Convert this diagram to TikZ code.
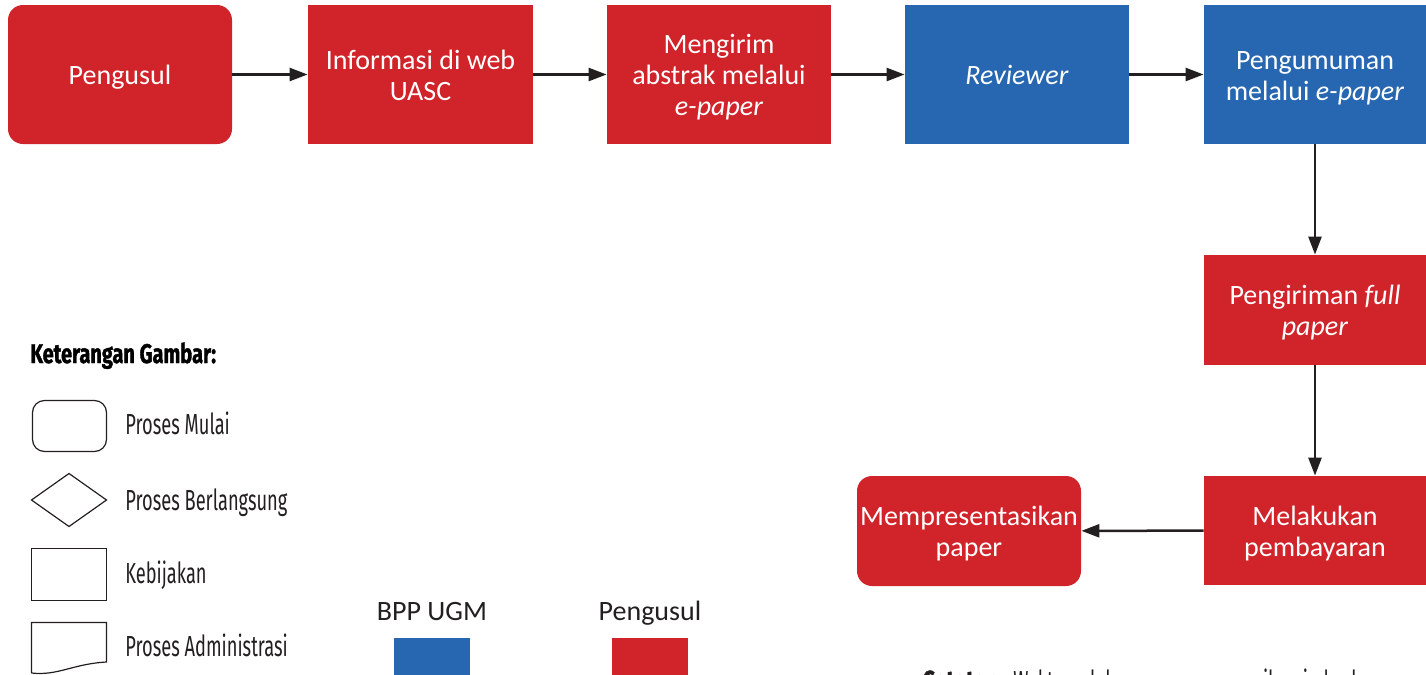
\documentclass[tikz,border=0pt]{standalone}
\usepackage{fontspec}
\setmainfont{Carlito}
\newfontfamily\legendfont[FakeStretch=0.63]{Fira Sans}
\newfontfamily\legendheadfont[FakeStretch=0.74, BoldFeatures={FakeBold=1.3}]{Fira Sans}
\usetikzlibrary{arrows.meta}

\definecolor{boxred}{RGB}{209,35,42}
\definecolor{boxblue}{RGB}{39,102,176}
\definecolor{ink}{RGB}{35,31,32}

% centred lines of box text, set slightly below the geometric middle
\newcommand\flowtext[1]{\raisebox{-2pt}[\height][\depth]{%
  \begin{tabular}{@{}c@{}}#1\end{tabular}}}

\tikzset{
  flowbox/.style={minimum width=112pt, minimum height=69.5pt, inner sep=0pt,
    text=white, font=\fontsize{14}{15.5}\selectfont},
  redbox/.style={flowbox, fill=boxred},
  bluebox/.style={flowbox, fill=boxblue},
  startbox/.style={redbox, rounded corners=7.5pt},
  flow/.style={draw=ink, line width=1.25pt, -{Triangle[length=9pt,width=6.5pt]}},
  symbol/.style={draw=ink, line width=0.6pt},
  keylabel/.style={anchor=base west, inner sep=0pt, text=ink,
    font=\legendfont\fontsize{14.5}{16}\selectfont},
  keyhead/.style={anchor=base west, inner sep=0pt, text=black,
    font=\legendheadfont\bfseries\fontsize{13.5}{15}\selectfont},
  swatchlabel/.style={anchor=base, inner sep=0pt, text=ink,
    font=\fontsize{14}{16}\selectfont},
  swatch/.style={minimum width=38pt, minimum height=24pt, inner sep=0pt},
}

\begin{document}
\begin{tikzpicture}[x=0.5pt, y=-0.5pt]
\useasboundingbox (0,0) rectangle (1426,675);

% --- process flow ---
\node[startbox] (pengusul) at (120,74.5) {\flowtext{Pengusul}};
\node[redbox, minimum width=112.5pt] (info) at (420.5,74.5) {\flowtext{Informasi di web\\UASC}};
\node[redbox] (kirim) at (719,74.5) {\flowtext{Mengirim\\abstrak melalui\\\textit{e-paper}}};
\node[bluebox] (reviewer) at (1017,74.5) {\flowtext{\textit{Reviewer}}};
\node[bluebox, minimum width=111pt] (umum) at (1315,74.5) {\flowtext{Pengumuman\\melalui \textit{e-paper}}};
\node[redbox, minimum width=111pt, minimum height=55pt] (full) at (1315,310) {\flowtext{Pengiriman \textit{full}\\\textit{paper}}};
\node[redbox, minimum width=111pt, minimum height=54.5pt] (bayar) at (1315,530.5) {\flowtext{Melakukan\\pembayaran}};
\node[startbox, minimum height=55pt] (presentasi) at (969,531) {\flowtext{Mempresentasikan\\paper}};

\draw[flow] (pengusul) -- (info);
\draw[flow] (info) -- (kirim);
\draw[flow] (kirim) -- (reviewer);
\draw[flow] (reviewer) -- (umum);
\draw[flow] (umum) -- (full);
\draw[flow] (full) -- (bayar);
\draw[flow] (bayar) -- (presentasi);

% --- symbol legend ---
\node[keyhead] (keterangan) at (30,363) {Keterangan Gambar:};

\draw[symbol, rounded corners=6pt] (32.5,400.5) rectangle (106.5,451.5);
\draw[symbol] (31.5,500) -- (69,473.5) -- (106.5,500) -- (69,526.5) -- cycle;
\draw[symbol] (31.5,548.5) rectangle (106.5,600.5);
\draw[symbol] (31.5,673) -- (31.5,622.5) -- (106.5,622.5) -- (106.5,662)
  .. controls (72,664) and (58,676) .. (31.5,673);

\node[keylabel] (mulai) at (125,434) {Proses Mulai};
\node[keylabel] (berlangsung) at (125,510) {Proses Berlangsung};
\node[keylabel] (kebijakan) at (125,583) {Kebijakan};
\node[keylabel] (administrasi) at (125,656) {Proses Administrasi};

% --- colour legend ---
\node[swatchlabel] (lblbpp) at (432,620) {BPP UGM};
\node[swatch, fill=boxblue] (keybpp) at (432,662) {};
\node[swatchlabel] (lblpengusul) at (650,620) {Pengusul};
\node[swatch, fill=boxred] (keypengusul) at (650,662) {};

% --- note along the lower edge ---
\node[keylabel, font=\legendheadfont\bfseries\fontsize{14.5}{16}\selectfont] (catatan) at (922,691) {Catatan:};
\node[keylabel] (catatanisi) at (1013,691) {Waktu pelaksanaan menyesuaikan jadwal};
\end{tikzpicture}
\end{document}
